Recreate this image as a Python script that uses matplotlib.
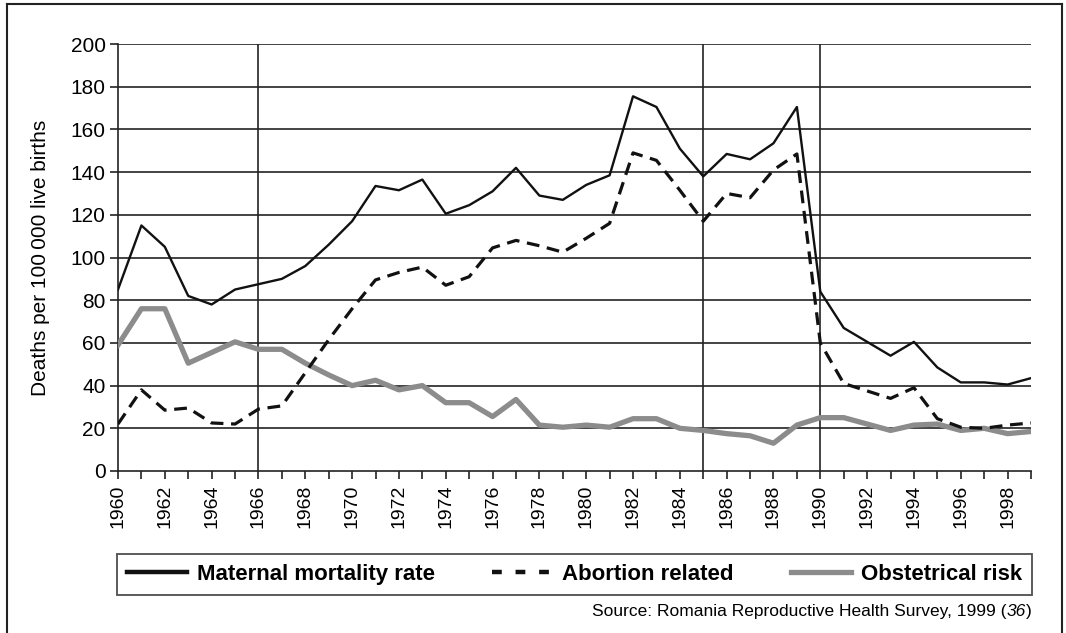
import matplotlib.pyplot as plt
from matplotlib.lines import Line2D
from matplotlib.ticker import MultipleLocator

years = list(range(1960, 2000))

maternal = [85, 115, 105, 82, 78, 85, 87.5, 90, 96, 106, 117, 133.5, 131.5, 136.5,
            120.5, 124.5, 131, 142, 129, 127, 134, 138.5, 175.5, 170.5, 151, 138,
            148.5, 146, 153.5, 170.5, 84, 67, 60.5, 54, 60.5, 48.5, 41.5, 41.5, 40.5, 43.5]

abortion = [22, 38, 28.5, 29.5, 22.5, 22, 29, 30.5, 46, 61.5, 76, 89.5, 93, 95.5,
            87, 91, 104.5, 108, 105.5, 102.5, 109, 116, 149, 145.5, 131.5, 117,
            130, 128, 141, 148.5, 60, 41, 37.5, 34, 39, 24.5, 20.5, 20, 21.5, 22.5]

obstetrical = [59, 76, 76, 50.5, 55.5, 60.5, 57, 57, 50.5, 45, 40, 42.5, 38, 40,
               32, 32, 25.5, 33.5, 21.5, 20.5, 21.5, 20.5, 24.5, 24.5, 20, 19,
               17.5, 16.5, 13, 21.5, 25, 25, 22, 19, 21.5, 22, 19, 20, 17.5, 18.5]

markers_years = [1966, 1985, 1990]
labels = ['Maternal mortality rate', 'Abortion related', 'Obstetrical risk']

plt.rcParams['font.family'] = ['Liberation Sans', 'DejaVu Sans']

W, H = 1066, 633
fig = plt.figure(figsize=(W / 100, H / 100), dpi=100)
ax = fig.add_axes([118 / W, 1 - 471 / H, 913 / W, 427 / H])

# outer frame (bottom edge is cut off in the original)
fig.add_artist(Line2D([7 / W, 7 / W], [0, 1 - 4 / H], color='#222222', lw=1.5))
fig.add_artist(Line2D([7 / W, 1062 / W], [1 - 4 / H, 1 - 4 / H], color='#222222', lw=1.5))
fig.add_artist(Line2D([1062 / W, 1062 / W], [0, 1 - 4 / H], color='#222222', lw=1.5))

for yv in range(20, 201, 20):
    ax.axhline(yv, color='#222222', lw=1.2, zorder=1)
for xv in markers_years:
    ax.axvline(xv, color='#222222', lw=1.2, zorder=1)

ax.plot(years, obstetrical, color='#8c8c8c', lw=3.8, zorder=3)
ax.plot(years, abortion, color='#111111', lw=2.3, dashes=(4, 2.4), zorder=4)
ax.plot(years, maternal, color='#111111', lw=1.7, zorder=5)

ax.set_xlim(1960, 1999)
ax.set_ylim(0, 200)
ax.yaxis.set_major_locator(MultipleLocator(20))
ax.set_xticks(range(1960, 2000, 2))
ax.set_xticks(range(1960, 2000), minor=True)
ax.set_xticklabels([str(y) for y in range(1960, 2000, 2)], rotation=90, fontsize=14)
ax.tick_params(axis='x', which='both', length=6, width=1.2, color='#222222', pad=4)
ax.tick_params(axis='y', length=6, width=1.2, color='#222222', labelsize=15, pad=3)

for s in ['top', 'right']:
    ax.spines[s].set_visible(False)
for s in ['left', 'bottom']:
    ax.spines[s].set_linewidth(1.2)
    ax.spines[s].set_color('#222222')

ax.set_ylabel('Deaths per 100\u2009000 live births', fontsize=15, labelpad=15)

handles = [Line2D([], [], color='#111111', lw=3.2),
           Line2D([], [], color='#111111', lw=3.2, dashes=(2.2, 3.1)),
           Line2D([], [], color='#8c8c8c', lw=3.8)]
leg = fig.legend(handles, labels, ncol=3, mode='expand',
                 bbox_to_anchor=(117 / W, 1 - 595 / H, 915 / W, 42 / H),
                 loc='lower left', frameon=True, fancybox=False, borderaxespad=0,
                 handlelength=2.7, handletextpad=0.45, columnspacing=2.5,
                 borderpad=0.45, prop={'weight': 'bold', 'size': 16})
leg.get_frame().set_edgecolor('#222222')
leg.get_frame().set_linewidth(1.3)

t1 = fig.text(1032 / W, 1 - 616 / H, ')', ha='right', va='baseline', fontsize=12.5)
a1 = plt.annotate('36', xy=(0, 0), xycoords=t1, ha='right', va='bottom',
                  fontsize=12.5, style='italic', annotation_clip=False)
plt.annotate('Source: Romania Reproductive Health Survey, 1999 (', xy=(0, 0), xycoords=a1,
             ha='right', va='bottom', fontsize=12.5, annotation_clip=False)

fig.savefig('out.png', dpi=100)
